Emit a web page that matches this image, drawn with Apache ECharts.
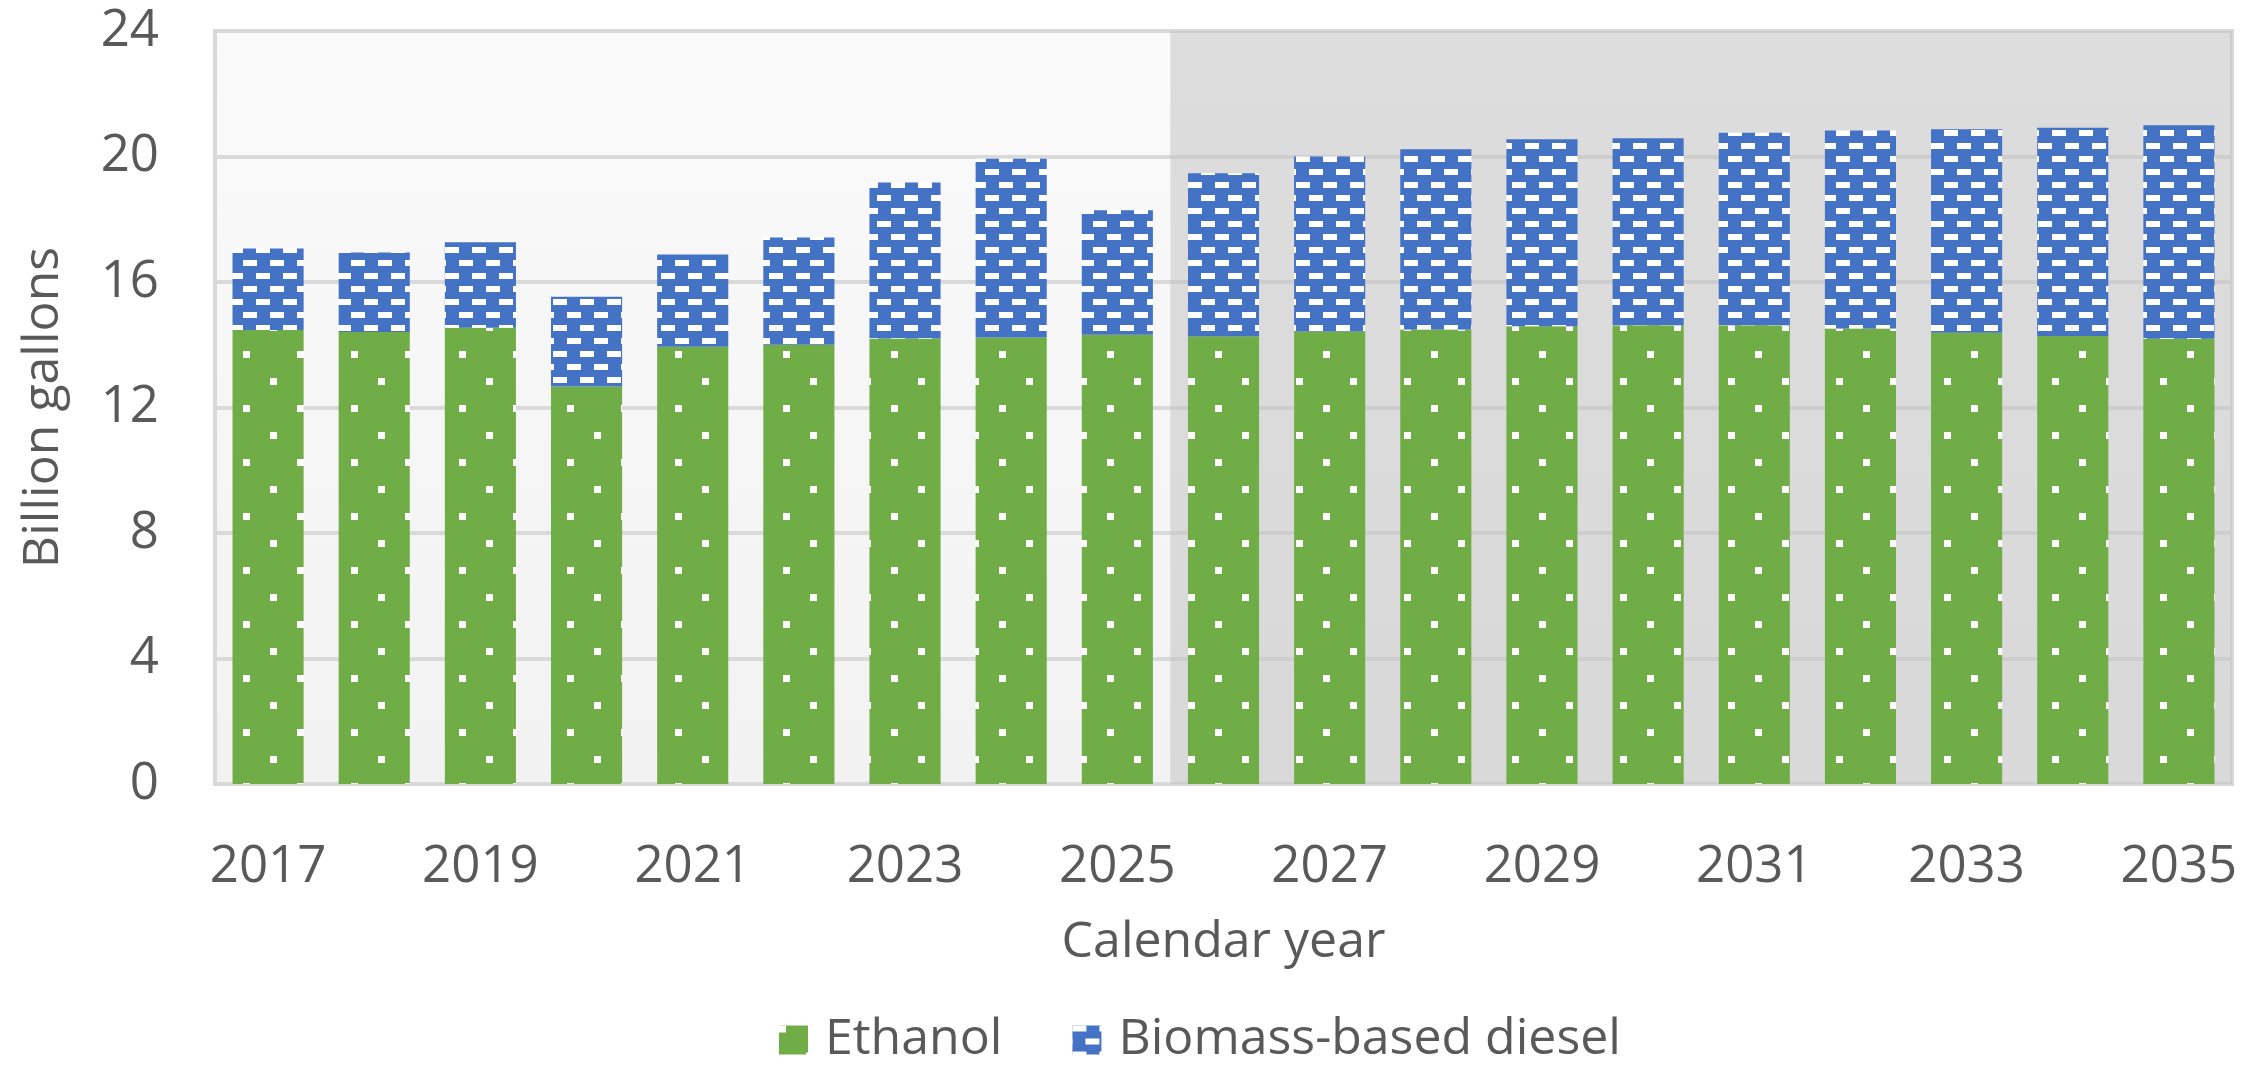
<!DOCTYPE html>
<html>
<head>
<meta charset="utf-8">
<script src="https://cdn.jsdelivr.net/npm/echarts@6/dist/echarts.min.js"></script>
<style>
    html, body { margin: 0; padding: 0; background: #ffffff; }
    #chart { width: 2267px; height: 1066px; }
</style>
</head>
<body>
<div id="chart"></div>
<script>
// categories and values
const years = ['2017', '2018', '2019', '2020', '2021', '2022', '2023', '2024', '2025', '2026',
    '2027', '2028', '2029', '2030', '2031', '2032', '2033', '2034', '2035']
const ethanol = [14.47, 14.41, 14.54, 12.67, 13.94, 14.00, 14.20, 14.23, 14.32, 14.27,
    14.42, 14.49, 14.59, 14.62, 14.62, 14.52, 14.38, 14.28, 14.19]
const biomassDiesel = [2.60, 2.53, 2.73, 2.86, 2.94, 3.42, 4.97, 5.70, 3.97, 5.20,
    5.58, 5.74, 5.96, 5.96, 6.14, 6.31, 6.49, 6.64, 6.81]
const legendNames = ['Ethanol', 'Biomass-based diesel']
const firstProjectedYear = '2026'

const textColor = '#595959'
const font = 'Open Sans'

// small dotted pattern for ethanol
function dotPattern() {
    const c = document.createElement('canvas')
    c.width = 54
    c.height = 54
    const ctx = c.getContext('2d')
    ctx.fillStyle = '#70ad47'
    ctx.fillRect(0, 0, 54, 54)
    ctx.fillStyle = '#ffffff'
    ctx.fillRect(0, 0, 7, 7)
    ctx.fillRect(27, 27, 7, 7)
    return c
}

// brick / dash pattern for biomass-based diesel
function dashPattern() {
    const c = document.createElement('canvas')
    c.width = 27
    c.height = 26
    const ctx = c.getContext('2d')
    ctx.fillStyle = '#4472c4'
    ctx.fillRect(0, 0, 27, 26)
    ctx.fillStyle = '#ffffff'
    ctx.fillRect(0, 0, 14, 6)
    ctx.fillRect(13, 13, 14, 6)
    return c
}

const projStart = years.indexOf(firstProjectedYear)

const dom = document.getElementById('chart')
const chart = echarts.init(dom)
const options = {
    animation: false,
    textStyle: { fontFamily: font },
    grid: {
        left: 215,
        right: 35,
        top: 31,
        bottom: 282,
        outerBoundsMode: 'none',
        containLabel: false,
        show: true,
        borderColor: '#d9d9d9',
        borderWidth: 4,
        backgroundColor: new echarts.graphic.LinearGradient(0, 0, 0, 1, [
            { offset: 0, color: '#fafafa' },
            { offset: 1, color: '#f2f2f2' }
        ])
    },
    legend: {
        left: 774,
        top: 1010,
        itemWidth: 29,
        itemHeight: 29,
        itemGap: 70,
        icon: 'rect',
        data: legendNames,
        textStyle: {
            color: textColor,
            fontSize: 50,
            fontFamily: font,
            padding: [0, 0, 0, 12]
        }
    },
    xAxis: [
        {
            type: 'category',
            data: years,
            name: 'Calendar year',
            nameLocation: 'middle',
            nameGap: 134,
            nameTextStyle: { color: textColor, fontSize: 50, fontFamily: font },
            axisLine: { lineStyle: { color: '#d9d9d9', width: 4 } },
            axisTick: {
                alignWithLabel: true,
                interval: 0,
                length: 12,
                lineStyle: { color: '#d9d9d9', width: 4 }
            },
            axisLabel: {
                interval: 1,
                margin: 58,
                color: textColor,
                fontSize: 51,
                fontFamily: font
            }
        },
        {
            // hidden helper axis to place the shaded projection region
            type: 'value',
            min: 0,
            max: years.length,
            show: false
        }
    ],
    yAxis: {
        type: 'value',
        min: 0,
        max: 24,
        interval: 4,
        name: 'Billion gallons',
        nameLocation: 'middle',
        nameGap: 146,
        nameTextStyle: { color: textColor, fontSize: 50, fontFamily: font },
        axisLine: { show: false },
        axisTick: { show: false },
        axisLabel: {
            margin: 56,
            color: textColor,
            fontSize: 51,
            fontFamily: font
        },
        splitLine: { lineStyle: { color: '#d9d9d9', width: 4 } }
    },
    series: [
        {
            type: 'line',
            xAxisIndex: 1,
            data: [],
            silent: true,
            z: 1,
            markArea: {
                silent: true,
                itemStyle: { color: 'rgba(194,194,194,0.53)' },
                data: [[{ xAxis: projStart }, { xAxis: years.length }]]
            }
        },
        {
            name: legendNames[0],
            type: 'bar',
            stack: 'total',
            barWidth: '67%',
            z: 3,
            itemStyle: { color: { image: dotPattern(), repeat: 'repeat' } },
            data: ethanol
        },
        {
            name: legendNames[1],
            type: 'bar',
            stack: 'total',
            z: 3,
            itemStyle: { color: { image: dashPattern(), repeat: 'repeat' } },
            data: biomassDiesel
        }
    ]
}
chart.setOption(options)
window.addEventListener('resize', () => chart.resize())
</script>
</body>
</html>
